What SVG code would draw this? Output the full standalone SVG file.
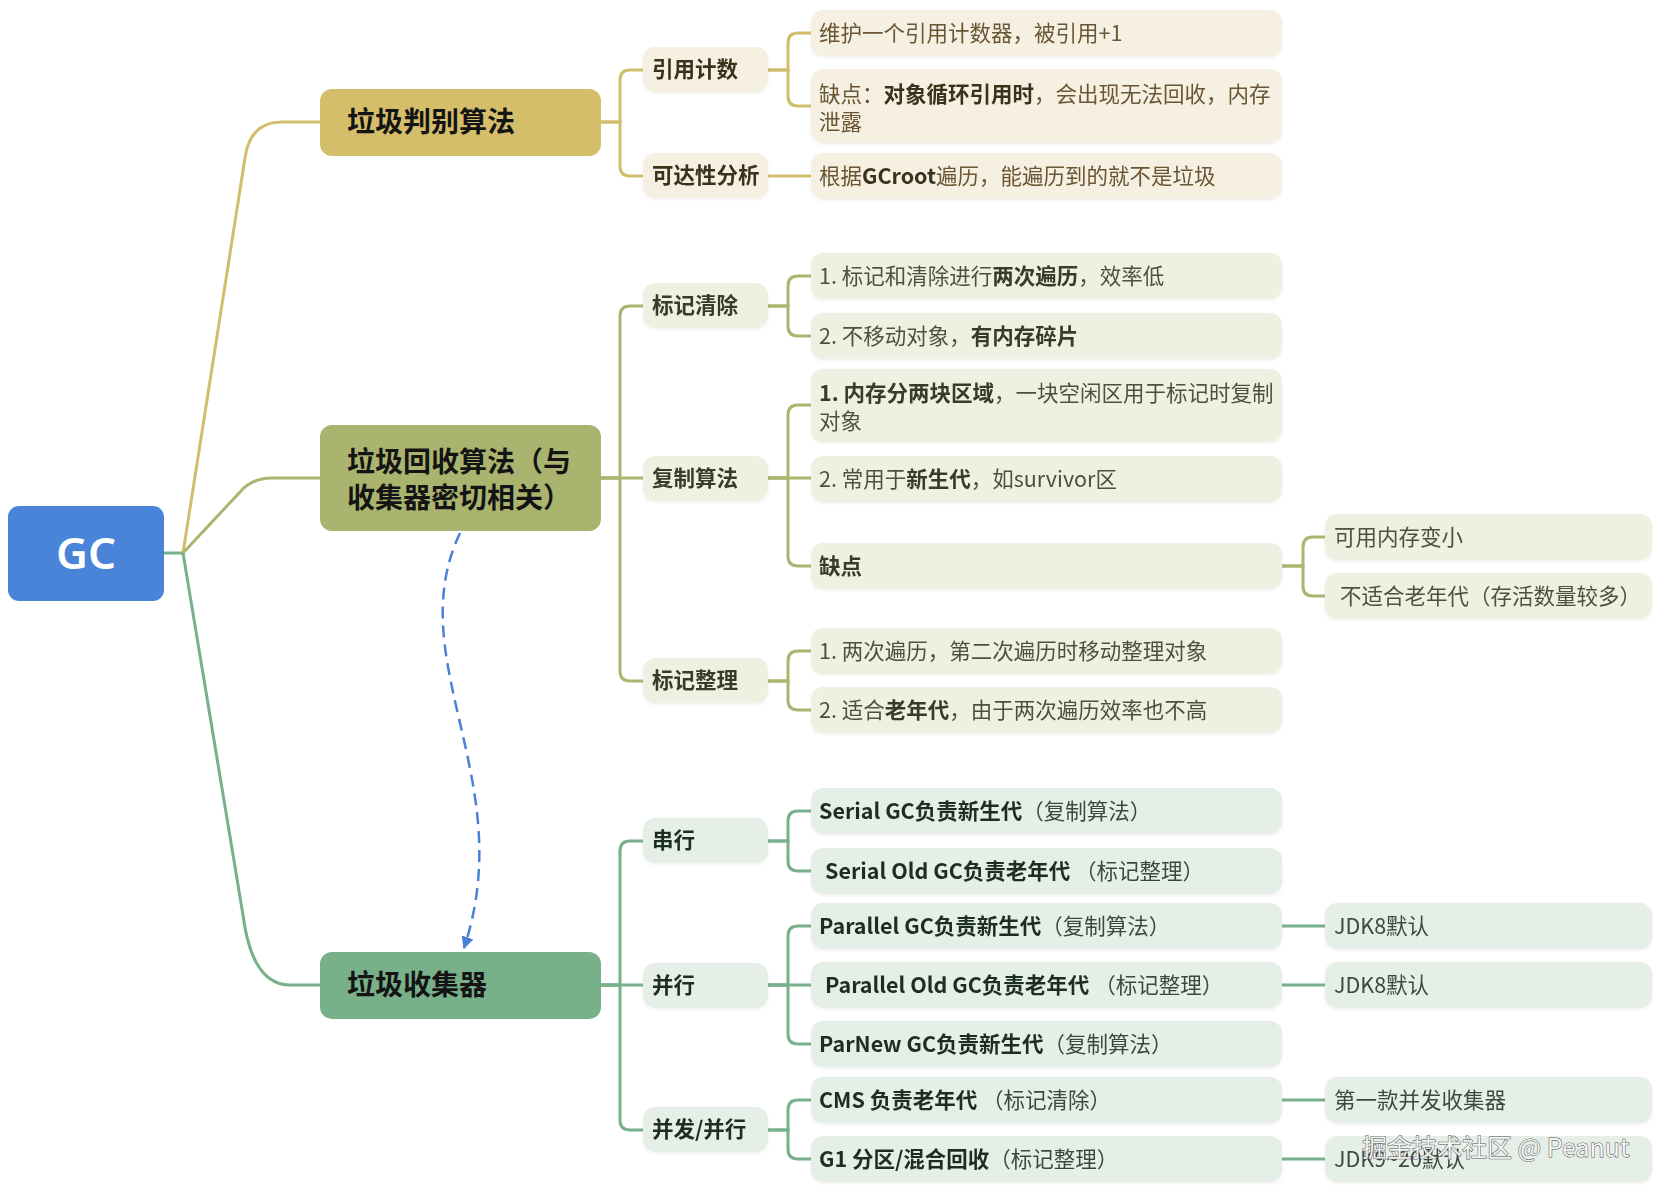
<svg xmlns="http://www.w3.org/2000/svg" width="1662" height="1192" viewBox="0 0 1662 1192">
<defs>
<style>
text{font-family:"Noto Sans CJK SC","Noto Sans",sans-serif;}
.gc{font-family:"Noto Sans","Open Sans",sans-serif;font-size:44px;font-weight:600;fill:#fff;}
.l1{font-size:28px;font-weight:700;fill:#141414;}
.l2{font-size:21.5px;font-weight:700;}
.lf{font-size:21.5px;font-weight:400;}
.b{font-weight:700;}
.ta .l2{fill:#3b321d;} .ta .lf{fill:#6a5634;} .ta .b{fill:#3b321d;}
.tb .l2{fill:#393a28;} .tb .lf{fill:#505040;} .tb .b{fill:#393a28;}
.tc .l2{fill:#1f2e24;} .tc .lf{fill:#3a4a3e;} .tc .b{fill:#1f2e24;}
.ta rect.n{fill:#f5f0e1;} .tb rect.n{fill:#eff0e2;} .tc rect.n{fill:#e5efe7;}
.ca{stroke:#d2bd6c;} .cb{stroke:#aab56e;} .cc{stroke:#77b08a;}
#connectors path{fill:none;stroke-width:3;}
#connectors path.dash{stroke:#4a80d8;stroke-width:2.5;stroke-dasharray:12 7;}
.wm{font-size:25px;fill:#ffffff;fill-opacity:0.9;stroke:#555555;stroke-width:1;paint-order:stroke;font-family:"Noto Sans CJK SC","Noto Sans",sans-serif;}
</style>
<filter id="sh" x="-5%" y="-10%" width="110%" height="130%">
<feDropShadow dx="0" dy="1.5" stdDeviation="1.5" flood-color="#000" flood-opacity="0.06"/>
</filter>
<marker id="arr" viewBox="0 0 10 10" refX="9" refY="5" markerWidth="5" markerHeight="5" orient="auto" markerUnits="strokeWidth">
<path d="M0,0 L10,5 L0,10 z" fill="#4a80d8"/>
</marker>
</defs>
<rect width="1662" height="1192" fill="#ffffff"/>

<g id="connectors">
<path class="cc" d="M164,553 H183"/>
<path class="ca" d="M183,553 L245,158 Q250,122 282,122 H320"/>
<path class="cb" d="M183,553 L240,492 Q252,478 272,478 H320"/>
<path class="cc" d="M183,553 L243,915 Q252,985 290,985 H320"/>
<path class="ca" d="M601,122 H620 V80 Q620,70 630,70 H643"/>
<path class="ca" d="M601,122 H620 V166 Q620,176 630,176 H643"/>
<path class="cb" d="M601,478 H620 V316 Q620,306 630,306 H643"/>
<path class="cb" d="M601,478 H643"/>
<path class="cb" d="M601,478 H620 V671 Q620,681 630,681 H643"/>
<path class="cc" d="M601,985 H620 V851 Q620,841 630,841 H643"/>
<path class="cc" d="M601,985 H643"/>
<path class="cc" d="M601,985 H620 V1120 Q620,1130 630,1130 H643"/>
<path class="ca" d="M768,70 H788 V43 Q788,33 798,33 H811"/>
<path class="ca" d="M768,70 H788 V96 Q788,106 798,106 H811"/>
<path class="ca" d="M768,176 H811"/>
<path class="cb" d="M768,306 H788 V286 Q788,276 798,276 H811"/>
<path class="cb" d="M768,306 H788 V326 Q788,336 798,336 H811"/>
<path class="cb" d="M768,478 H788 V415 Q788,405 798,405 H811"/>
<path class="cb" d="M768,478 H811"/>
<path class="cb" d="M768,478 H788 V556 Q788,566 798,566 H811"/>
<path class="cb" d="M1282,566 H1303 V547 Q1303,537 1313,537 H1325"/>
<path class="cb" d="M1282,566 H1303 V586 Q1303,596 1313,596 H1325"/>
<path class="cb" d="M768,681 H788 V661 Q788,651 798,651 H811"/>
<path class="cb" d="M768,681 H788 V700 Q788,710 798,710 H811"/>
<path class="cc" d="M768,841 H788 V821 Q788,811 798,811 H811"/>
<path class="cc" d="M768,841 H788 V861 Q788,871 798,871 H811"/>
<path class="cc" d="M768,985 H788 V936 Q788,926 798,926 H811"/>
<path class="cc" d="M768,985 H811"/>
<path class="cc" d="M768,985 H788 V1034 Q788,1044 798,1044 H811"/>
<path class="cc" d="M1282,926 H1325"/>
<path class="cc" d="M1282,985 H1325"/>
<path class="cc" d="M768,1130 H788 V1110 Q788,1100 798,1100 H811"/>
<path class="cc" d="M768,1130 H788 V1149 Q788,1159 798,1159 H811"/>
<path class="cc" d="M1282,1100 H1325"/>
<path class="cc" d="M1282,1159 H1325"/>
<path class="dash" d="M460,533 C400,660 520,780 464,948" marker-end="url(#arr)"/>
</g>

<g id="n-gc">
<rect x="8" y="506" width="156" height="95" rx="11" fill="#4a84d9"/>
<text class="gc" x="86" y="569" text-anchor="middle">GC</text>
</g>

<g id="n-judge">
<rect x="320" y="89" width="281" height="67" rx="12" fill="#d4be6a"/>
<text class="l1" x="347" y="132">垃圾判别算法</text>
</g>
<g id="n-algo">
<rect x="320" y="425" width="281" height="106" rx="12" fill="#abb46e"/>
<text class="l1" x="347" y="472">垃圾回收算法（与<tspan x="347" dy="36">收集器密切相关）</tspan></text>
</g>
<g id="n-collector">
<rect x="320" y="952" width="281" height="67" rx="12" fill="#78b08a"/>
<text class="l1" x="347" y="995">垃圾收集器</text>
</g>

<g class="ta" filter="url(#sh)">
<g id="n-refcount"><rect class="n" x="643" y="47" width="125" height="45" rx="12"/><text class="l2" x="652" y="77">引用计数</text></g>
<g id="n-reach"><rect class="n" x="643" y="153" width="125" height="45" rx="12"/><text class="l2" x="652" y="183">可达性分析</text></g>
<g id="n-rc1"><rect class="n" x="811" y="10" width="471" height="46" rx="12"/><text class="lf" x="819" y="40.5">维护一个引用计数器，被引用+1</text></g>
<g id="n-rc2"><rect class="n" x="811" y="69" width="471" height="74" rx="12"/><text class="lf" x="819" y="101.5">缺点：<tspan class="b">对象循环引用时</tspan>，会出现无法回收，内存<tspan x="819" dy="28">泄露</tspan></text></g>
<g id="n-ra1"><rect class="n" x="811" y="153" width="471" height="46" rx="12"/><text class="lf" x="819" y="183.5">根据<tspan class="b">GCroot</tspan>遍历，能遍历到的就不是垃圾</text></g>
</g>

<g class="tb" filter="url(#sh)">
<g id="n-marksweep"><rect class="n" x="643" y="283" width="125" height="45" rx="12"/><text class="l2" x="652" y="313">标记清除</text></g>
<g id="n-copy"><rect class="n" x="643" y="456" width="125" height="45" rx="12"/><text class="l2" x="652" y="486">复制算法</text></g>
<g id="n-markcompact"><rect class="n" x="643" y="658" width="125" height="45" rx="12"/><text class="l2" x="652" y="688">标记整理</text></g>
<g id="n-ms1"><rect class="n" x="811" y="253" width="471" height="46" rx="12"/><text class="lf" x="819" y="283.5">1. 标记和清除进行<tspan class="b">两次遍历</tspan>，效率低</text></g>
<g id="n-ms2"><rect class="n" x="811" y="313" width="471" height="46" rx="12"/><text class="lf" x="819" y="343.5">2. 不移动对象，<tspan class="b">有内存碎片</tspan></text></g>
<g id="n-cp1"><rect class="n" x="811" y="369" width="471" height="73" rx="12"/><text class="lf" x="819" y="400.5"><tspan class="b">1. 内存分两块区域</tspan>，一块空闲区用于标记时复制<tspan x="819" dy="28">对象</tspan></text></g>
<g id="n-cp2"><rect class="n" x="811" y="456" width="471" height="46" rx="12"/><text class="lf" x="819" y="486.5">2. 常用于<tspan class="b">新生代</tspan>，如survivor区</text></g>
<g id="n-cp3"><rect class="n" x="811" y="543" width="471" height="46" rx="12"/><text class="lf b" x="819" y="573.5">缺点</text></g>
<g id="n-cp3a"><rect class="n" x="1325" y="514" width="327" height="46" rx="12"/><text class="lf" x="1334" y="544.5">可用内存变小</text></g>
<g id="n-cp3b"><rect class="n" x="1325" y="573" width="327" height="46" rx="12"/><text class="lf" x="1340" y="603.5">不适合老年代（存活数量较多）</text></g>
<g id="n-mc1"><rect class="n" x="811" y="628" width="471" height="46" rx="12"/><text class="lf" x="819" y="658.5">1. 两次遍历，第二次遍历时移动整理对象</text></g>
<g id="n-mc2"><rect class="n" x="811" y="687" width="471" height="46" rx="12"/><text class="lf" x="819" y="717.5">2. 适合<tspan class="b">老年代</tspan>，由于两次遍历效率也不高</text></g>
</g>

<g class="tc" filter="url(#sh)">
<g id="n-serial"><rect class="n" x="643" y="818" width="125" height="45" rx="12"/><text class="l2" x="652" y="848">串行</text></g>
<g id="n-parallel"><rect class="n" x="643" y="963" width="125" height="45" rx="12"/><text class="l2" x="652" y="993">并行</text></g>
<g id="n-concurrent"><rect class="n" x="643" y="1107" width="125" height="45" rx="12"/><text class="l2" x="652" y="1137">并发/并行</text></g>
<g id="n-s1"><rect class="n" x="811" y="788" width="471" height="46" rx="12"/><text class="lf" x="819" y="818.5"><tspan class="b">Serial GC负责新生代</tspan>（复制算法）</text></g>
<g id="n-s2"><rect class="n" x="811" y="848" width="471" height="46" rx="12"/><text class="lf" x="825" y="878.5"><tspan class="b">Serial Old GC负责老年代</tspan> （标记整理）</text></g>
<g id="n-p1"><rect class="n" x="811" y="903" width="471" height="46" rx="12"/><text class="lf" x="819" y="933.5"><tspan class="b">Parallel GC负责新生代</tspan>（复制算法）</text></g>
<g id="n-p1a"><rect class="n" x="1325" y="903" width="327" height="46" rx="12"/><text class="lf" x="1334" y="933.5">JDK8默认</text></g>
<g id="n-p2"><rect class="n" x="811" y="962" width="471" height="46" rx="12"/><text class="lf" x="825" y="992.5"><tspan class="b">Parallel Old GC负责老年代</tspan> （标记整理）</text></g>
<g id="n-p2a"><rect class="n" x="1325" y="962" width="327" height="46" rx="12"/><text class="lf" x="1334" y="992.5">JDK8默认</text></g>
<g id="n-p3"><rect class="n" x="811" y="1021" width="471" height="46" rx="12"/><text class="lf" x="819" y="1051.5"><tspan class="b">ParNew GC负责新生代</tspan>（复制算法）</text></g>
<g id="n-c1"><rect class="n" x="811" y="1077" width="471" height="46" rx="12"/><text class="lf" x="819" y="1107.5"><tspan class="b">CMS 负责老年代</tspan> （标记清除）</text></g>
<g id="n-c1a"><rect class="n" x="1325" y="1077" width="327" height="46" rx="12"/><text class="lf" x="1334" y="1107.5">第一款并发收集器</text></g>
<g id="n-c2"><rect class="n" x="811" y="1136" width="471" height="46" rx="12"/><text class="lf" x="819" y="1166.5"><tspan class="b">G1 分区/混合回收</tspan>（标记整理）</text></g>
<g id="n-c2a"><rect class="n" x="1325" y="1136" width="327" height="46" rx="12"/><text class="lf" x="1334" y="1166.5">JDK9~20默认</text></g>
</g>

<text class="wm" x="1362" y="1157">掘金技术社区 @ Peanut</text>
</svg>
